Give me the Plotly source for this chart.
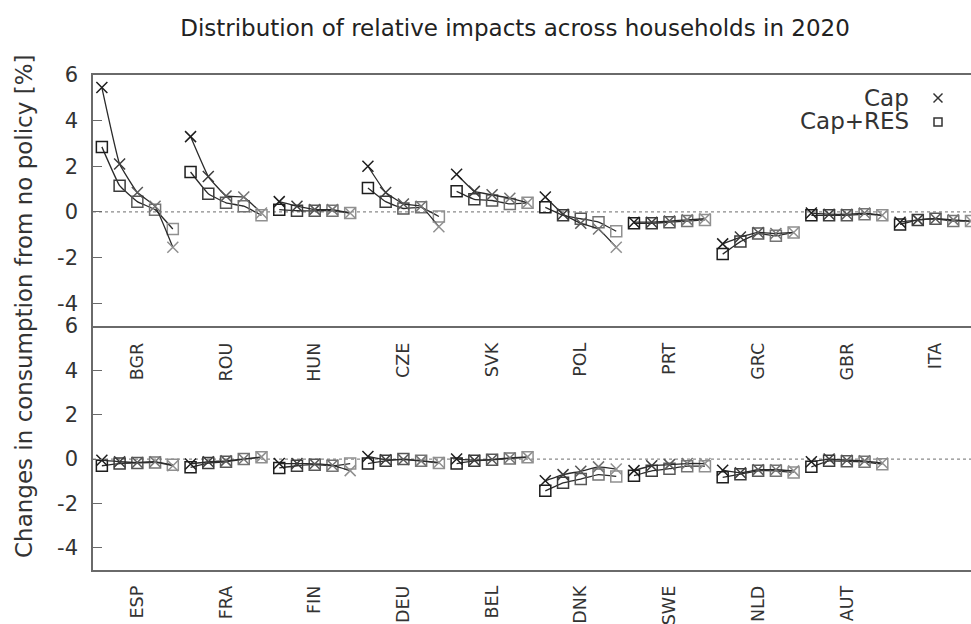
import plotly.graph_objects as go

# Countries in each panel
top_countries = ["BGR", "ROU", "HUN", "CZE", "SVK", "POL", "PRT", "GRC", "GBR", "ITA"]
bottom_countries = ["ESP", "FRA", "FIN", "DEU", "BEL", "DNK", "SWE", "NLD", "AUT"]

# Change in consumption by income quintile (Q1..Q5), in %
cap_top = [
    [5.45, 2.10, 0.85, 0.25, -1.55],   # BGR
    [3.30, 1.55, 0.70, 0.65, -0.05],   # ROU
    [0.45, 0.25, 0.10, 0.10, -0.05],   # HUN
    [2.00, 0.85, 0.35, 0.25, -0.65],   # CZE
    [1.65, 0.90, 0.75, 0.60, 0.40],    # SVK
    [0.65, -0.10, -0.50, -0.75, -1.55],  # POL
    [-0.45, -0.45, -0.40, -0.35, -0.30],  # PRT
    [-1.40, -1.10, -0.90, -0.95, -0.90],  # GRC
    [-0.05, -0.10, -0.10, -0.05, -0.15],  # GBR
    [-0.45, -0.35, -0.30, -0.35, -0.40],  # ITA
]
capres_top = [
    [2.85, 1.15, 0.45, 0.10, -0.75],
    [1.75, 0.80, 0.40, 0.25, -0.15],
    [0.10, 0.05, 0.05, 0.05, -0.05],
    [1.05, 0.45, 0.15, 0.20, -0.20],
    [0.90, 0.55, 0.50, 0.35, 0.40],
    [0.20, -0.15, -0.30, -0.45, -0.85],
    [-0.50, -0.50, -0.45, -0.40, -0.35],
    [-1.85, -1.30, -0.95, -1.05, -0.90],
    [-0.15, -0.15, -0.15, -0.10, -0.15],
    [-0.55, -0.35, -0.30, -0.40, -0.40],
]
cap_bottom = [
    [-0.05, -0.12, -0.15, -0.12, -0.30],  # ESP
    [-0.22, -0.12, -0.08, 0.00, 0.10],    # FRA
    [-0.20, -0.20, -0.22, -0.28, -0.52],  # FIN
    [0.12, -0.03, -0.02, -0.08, -0.15],   # DEU
    [0.00, -0.05, -0.02, 0.05, 0.10],     # BEL
    [-0.98, -0.70, -0.55, -0.35, -0.45],  # DNK
    [-0.52, -0.30, -0.25, -0.20, -0.20],  # SWE
    [-0.50, -0.62, -0.48, -0.48, -0.53],  # NLD
    [-0.12, 0.00, -0.05, -0.08, -0.18],   # AUT
]
capres_bottom = [
    [-0.30, -0.20, -0.18, -0.15, -0.25],
    [-0.37, -0.18, -0.12, 0.00, 0.08],
    [-0.40, -0.30, -0.25, -0.30, -0.20],
    [-0.20, -0.08, 0.00, -0.08, -0.18],
    [-0.20, -0.08, -0.03, 0.03, 0.08],
    [-1.43, -1.07, -0.90, -0.70, -0.78],
    [-0.75, -0.53, -0.43, -0.32, -0.32],
    [-0.82, -0.68, -0.53, -0.53, -0.60],
    [-0.35, -0.08, -0.10, -0.12, -0.23],
]

y_ticks = [-4, -2, 0, 2, 4, 6]
y_tick_text = ["-4", "-2", "0", "2", "4", "6"]
quintile_shades = ["#1e1e1e", "#3c3c3c", "#585858", "#747474", "#909090"]

N_Q = 5
FONT = "DejaVu Sans"
TXT = "#333333"
AX = "#6a6a6a"

fig = go.Figure()


def add_panel(countries, cap, capres, xa, ya):
    for g, _ in enumerate(countries):
        xs = [g * N_Q + q for q in range(N_Q)]
        for vals, sym in ((capres[g], "square-open"), (cap[g], "x-thin-open")):
            fig.add_trace(go.Scatter(
                x=xs, y=vals, xaxis=xa, yaxis=ya,
                mode="lines+markers", showlegend=False,
                line=dict(color="#2a2a2a", width=1.3, shape="spline", smoothing=0.3),
                marker=dict(symbol=sym, size=11, color=quintile_shades,
                            line=dict(width=1.5, color=quintile_shades)),
                hoverinfo="skip",
            ))


add_panel(top_countries, cap_top, capres_top, "x", "y")
add_panel(bottom_countries, cap_bottom, capres_bottom, "x2", "y2")

split = 244 / 495

x_common = dict(
    range=[-0.5, 49.0], showgrid=False, zeroline=False,
    showline=True, linecolor=AX, linewidth=1.5,
    ticks="outside", tickcolor="rgba(0,0,0,0)",
    tickangle=-90, tickfont=dict(family=FONT, size=17.5, color=TXT),
    automargin=False,
)
y_common = dict(
    range=[-5, 6], tickvals=y_ticks, ticktext=y_tick_text,
    showgrid=False, zeroline=False,
    showline=True, linecolor=AX, linewidth=1.5,
    ticks="inside", ticklen=9, tickcolor=AX, tickwidth=1,
    tickfont=dict(family=FONT, size=21, color=TXT),
    ticklabelstandoff=9, automargin=False,
)

fig.update_layout(
    width=971, height=624,
    margin=dict(l=93, r=0, t=75, b=54),
    paper_bgcolor="white", plot_bgcolor="white",
    showlegend=False,
    title=dict(text="Distribution of relative impacts across households in 2020",
               x=515 / 971, xanchor="center", y=1 - 28 / 624, yanchor="middle",
               font=dict(family=FONT, size=23, color="#222222")),
    xaxis=dict(x_common, anchor="y", mirror=True, ticklen=8,
               tickvals=[g * N_Q + 2 for g in range(len(top_countries))],
               ticktext=top_countries),
    yaxis=dict(y_common, domain=[split, 1], anchor="x"),
    xaxis2=dict(x_common, anchor="y2", mirror=False, ticklen=7,
                tickvals=[g * N_Q + 2 for g in range(len(bottom_countries))],
                ticktext=bottom_countries),
    yaxis2=dict(y_common, domain=[0, split], anchor="x2"),
)

# dotted zero reference in each panel
for ya, xa in (("y", "x"), ("y2", "x2")):
    fig.add_shape(type="line", xref=f"{xa} domain", x0=0, x1=1, yref=ya, y0=0, y1=0,
                  line=dict(color="#8a8a8a", width=1.3, dash="dot"), layer="below")


def px_x(px):
    return (px - 93) / 878


def px_y(py):
    return (624 - 54 - py) / 495


# shared y-axis title
fig.add_annotation(text="Changes in consumption from no policy [%]",
                   xref="paper", yref="paper", x=px_x(24), y=px_y(307),
                   xanchor="center", yanchor="middle", textangle=-90, showarrow=False,
                   font=dict(family=FONT, size=23, color=TXT))

# key in the top-right corner: label then symbol
key_labels = [("Cap", 98), ("Cap+RES", 121)]
for text, ypx in key_labels:
    fig.add_annotation(text=text, xref="paper", yref="paper",
                       x=px_x(911), y=px_y(ypx),
                       xanchor="right", yanchor="middle", showarrow=False,
                       font=dict(family=FONT, size=23, color=TXT))

cx, cy, h = 938, 98, 4.5
fig.add_shape(type="line", xref="paper", yref="paper",
              x0=px_x(cx - h), y0=px_y(cy - h), x1=px_x(cx + h), y1=px_y(cy + h),
              line=dict(color="#333333", width=1.5))
fig.add_shape(type="line", xref="paper", yref="paper",
              x0=px_x(cx - h), y0=px_y(cy + h), x1=px_x(cx + h), y1=px_y(cy - h),
              line=dict(color="#333333", width=1.5))
cy2 = 122
fig.add_shape(type="rect", xref="paper", yref="paper",
              x0=px_x(cx - 4), y0=px_y(cy2 - 4), x1=px_x(cx + 4), y1=px_y(cy2 + 4),
              line=dict(color="#333333", width=1.5))

fig.write_html("out.html")
